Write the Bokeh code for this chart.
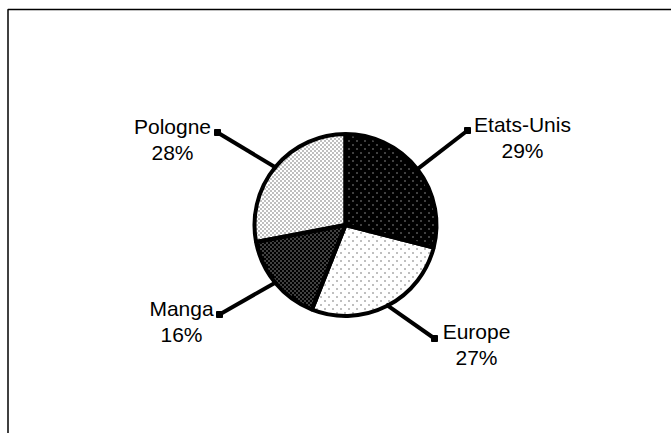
import numpy as np
from bokeh.plotting import figure
from bokeh.models import Range1d
from bokeh.embed import file_html
from bokeh.resources import INLINE
from bokeh.core.properties import value

# ---- data ----
labels = ["Etats-Unis", "Europe", "Manga", "Pologne"]
shares = [29, 27, 16, 28]
pct_labels = ["29%", "27%", "16%", "28%"]

# ---- styles: dotted textures (background, dot colour, tile size, dot cells) ----
tex_bg = ["black", "white", "black", "white"]
tex_dot = ["white", "black", "white", "black"]
tex_size = [8, 8, 4, 4]
tex_cells = [[(0, 0), (4, 4)], [(0, 0), (4, 4)], [(0, 0), (2, 2)], [(0, 0), (2, 2)]]

# ---- layout (pixels, origin top-left) ----
W, H = 671, 433
cx, cy, r = 345, 224.5, 91
leader_end_x = [467, 434, 219, 217]
leader_end_y = [130, 338, 314, 132]
text_x = [522, 476, 181, 172]
text_y = [124, 331, 308, 126]   # baseline of first line
line_gap = 26

p = figure(width=W, height=H, x_range=Range1d(0, W), y_range=Range1d(0, H),
           min_border=0, toolbar_location=None, output_backend="svg",
           outline_line_color=None, background_fill_color="white")
p.axis.visible = False
p.grid.visible = False

# frame (top and left edges of the chart area)
p.line([7.5, 7.5, W], [0, H - 9, H - 9], line_color="black", line_width=1.5)

# wedges, clockwise from 12 o'clock
frac = np.array(shares, dtype=float) / sum(shares)
cum = np.concatenate([[0], np.cumsum(frac)])
starts = np.pi / 2 - 2 * np.pi * cum[1:]
ends = np.pi / 2 - 2 * np.pi * cum[:-1]
mids = np.pi / 2 - 2 * np.pi * (cum[:-1] + cum[1:]) / 2
cyd = H - cy

# slice fills
p.wedge(x=cx, y=cyd, radius=r, start_angle=starts, end_angle=ends,
        fill_color=tex_bg, line_color=None)

# dotted texture inside each slice (1-px dots on a repeating tile)
yy, xx = np.mgrid[0:H, 0:W]
dx = xx + 0.5 - cx
dy = yy + 0.5 - cy
inside = dx ** 2 + dy ** 2 < (r - 2) ** 2
theta = np.mod(np.arctan2(dx, -dy), 2 * np.pi)   # clockwise from top
for k in range(len(labels)):
    s = tex_size[k]
    cell = np.zeros_like(inside)
    for (i, j) in tex_cells[k]:
        cell |= (xx % s == i) & (yy % s == j)
    m = inside & cell & (theta >= 2 * np.pi * cum[k]) & (theta < 2 * np.pi * cum[k + 1])
    p.rect(x=xx[m] + 0.5, y=H - (yy[m] + 0.5), width=1, height=1,
           fill_color=tex_dot[k], line_color=None)

# slice outlines
p.wedge(x=cx, y=cyd, radius=r, start_angle=starts, end_angle=ends,
        fill_color=None, line_color="black", line_width=4)

# leader lines
x0 = cx + (r - 2) * np.cos(mids)
y0 = cyd + (r - 2) * np.sin(mids)
x1 = np.array(leader_end_x, dtype=float)
y1 = H - np.array(leader_end_y, dtype=float)
p.segment(x0=x0, y0=y0, x1=x1, y1=y1, line_color="black", line_width=4)
p.scatter(x=x1, y=y1, marker="square", size=6, fill_color="black", line_color="black")

# labels
ty = H - np.array(text_y, dtype=float)
p.text(x=text_x, y=ty, text=labels, text_font=value("Liberation Sans"),
       text_font_size="21px", text_align="center", text_baseline="alphabetic",
       text_color="black")
p.text(x=text_x, y=ty - line_gap, text=pct_labels, text_font=value("Liberation Sans"),
       text_font_size="21px", text_align="center", text_baseline="alphabetic",
       text_color="black")

open("out.html", "w").write(file_html(p, INLINE))
